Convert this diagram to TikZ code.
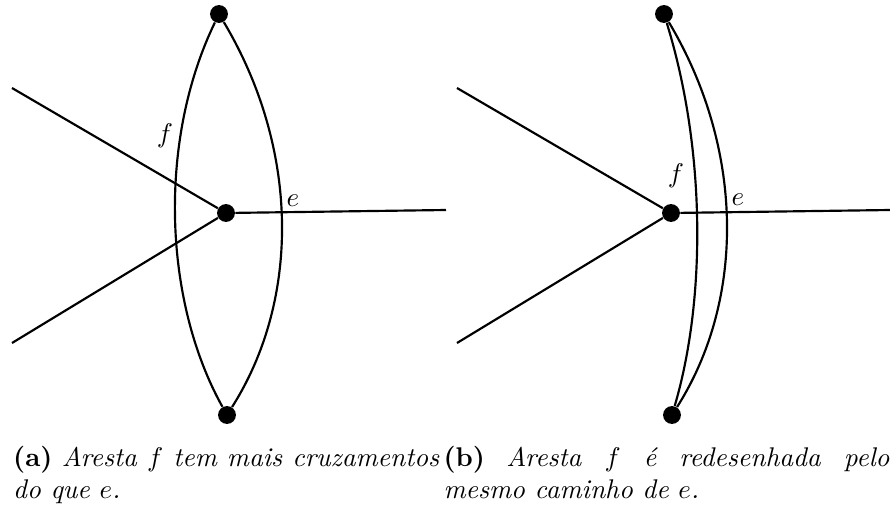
\documentclass[tikz,border=0pt]{standalone}

\begin{document}
\begin{tikzpicture}[
    x=0.37pt, y=-0.37pt,
    vert/.style={circle, fill=black, inner sep=0pt, minimum size=6.6pt},
    edge/.style={thick, draw=black},
    lbl/.style={inner sep=0pt},
    capt/.style={anchor=base west, inner sep=0pt, align=justify}
  ]
    \useasboundingbox (0,0) rectangle (890,506);
    % (a) f crosses more than e
    \node[vert] (topA) at (219,14) {};
    \node[vert] (midA) at (226,213) {};
    \node[vert] (botA) at (227,415) {};
    \coordinate (inA1) at (12,88);
    \coordinate (inA2) at (12,343);
    \coordinate (outA) at (446,210);
    \draw[edge] (inA1) -- (midA);
    \draw[edge] (inA2) -- (midA);
    \draw[edge] (midA) -- (outA);
    \draw[edge] (topA) .. controls (158,140) and (163,300) .. (botA);
    \draw[edge] (topA) .. controls (300,150) and (300,300) .. (botA);
    \node[lbl] (fA) at (165,136) {$f$};
    \node[lbl] (eA) at (293,201) {$e$};
    \node[capt, text width=157.6pt] (captA) at (12.7,466)
      {\textbf{(a)} \textit{Aresta $f$ tem mais cruzamentos do que $e$.}};
    % (b) f redrawn along e
    \node[vert] (topB) at (664,14) {};
    \node[vert] (midB) at (671,213) {};
    \node[vert] (botB) at (672,415) {};
    \coordinate (inB1) at (457,88);
    \coordinate (inB2) at (457,343);
    \coordinate (outB) at (890,210);
    \draw[edge] (inB1) -- (midB);
    \draw[edge] (inB2) -- (midB);
    \draw[edge] (midB) -- (outB);
    \draw[edge] (topB) .. controls (706,150) and (706,300) .. (botB);
    \draw[edge] (topB) .. controls (745,150) and (745,300) .. (botB);
    \node[lbl] (fB) at (676,176) {$f$};
    \node[lbl] (eB) at (738,200) {$e$};
    \node[capt, text width=165pt] (captB) at (443,466)
      {\textbf{(b)} \textit{Aresta $f$ é redesenhada pelo mesmo caminho de $e$.}};
\end{tikzpicture}
\end{document}
